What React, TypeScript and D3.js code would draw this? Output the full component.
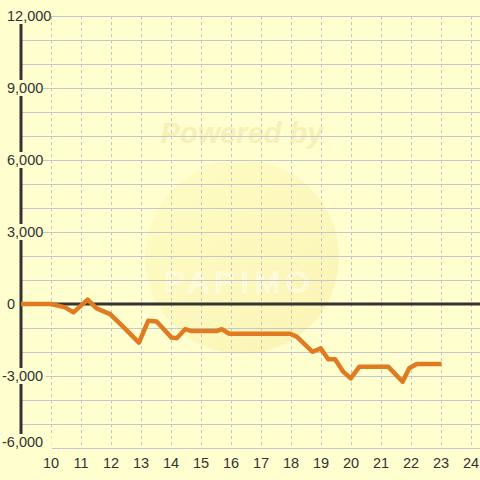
import React from "react";
import * as d3 from "d3";

const hours = [9, 10, 10.47, 10.75, 11.22, 11.52, 11.97, 12.35, 12.93, 13.24, 13.52, 14.02, 14.19, 14.47, 14.69, 15.52, 15.69, 15.94, 17.97, 18.19, 18.72, 18.99, 19.24, 19.47, 19.74, 19.99, 20.28, 21.24, 21.72, 21.94, 22.19, 23.02];
const values = [0, 0, -140, -350, 180, -180, -420, -880, -1610, -700, -730, -1400, -1430, -1050, -1130, -1130, -1050, -1240, -1240, -1360, -1990, -1850, -2300, -2300, -2820, -3100, -2610, -2610, -3240, -2680, -2500, -2500];
const xTicks = [10, 11, 12, 13, 14, 15, 16, 17, 18, 19, 20, 21, 22, 23, 24];
const yLabelTicks = [12000, 9000, 6000, 3000, 0, -3000, -6000];
const yGridTicks = [12000, 11000, 10000, 9000, 8000, 7000, 6000, 5000, 4000, 3000, 2000, 1000, 0, -1000, -2000, -3000, -4000, -5000, -6000];

const BG = "#fefecf";
const W = 480;
const H = 480;

export default function App() {
  const x = d3.scaleLinear().domain([9, 24.3]).range([21, 480]);
  const y = d3.scaleLinear().domain([-6000, 12000]).range([448, 16]);
  const line = d3
    .line<number>()
    .x((_, i) => x(hours[i]))
    .y((d) => y(d));
  const fmt = d3.format(",");
  const font = "'Liberation Sans', Arial, sans-serif";
  return (
    <svg
      width={W}
      height={H}
      style={{ position: "absolute", left: 0, top: 0, display: "block" }}
    >
      <defs>
        <linearGradient id="wm" x1="0" y1="0" x2="1" y2="1">
          <stop offset="0" stopColor="#fffbb8" stopOpacity="0.45" />
          <stop offset="1" stopColor="#f6e89a" stopOpacity="0.5" />
        </linearGradient>
      </defs>
      <rect x={0} y={0} width={W} height={H} fill={BG} />
      {/* watermark */}
      <circle cx={242} cy={257} r={97} fill="url(#wm)" />
      <text
        x={242}
        y={143}
        textAnchor="middle"
        fontFamily={font}
        fontWeight="bold"
        fontStyle="italic"
        fontSize={29}
        fill="#f7f0b8"
      >
        Powered by
      </text>
      <text
        x={240}
        y={292}
        textAnchor="middle"
        fontFamily={font}
        fontSize={30}
        fill="none"
        stroke="#fffde8"
        strokeWidth={1.2}
        letterSpacing={6}
      >
        PAPIMO
      </text>
      {/* horizontal grid */}
      {yGridTicks.map((t) => (
        <line
          key={"h" + t}
          x1={21}
          x2={W}
          y1={y(t) + 0.5}
          y2={y(t) + 0.5}
          stroke="#c6c6cf"
          strokeWidth={1.2}
        />
      ))}
      {/* vertical grid */}
      {xTicks.map((t) => (
        <line
          key={"v" + t}
          x1={Math.round(x(t)) + 0.5}
          x2={Math.round(x(t)) + 0.5}
          y1={16}
          y2={448}
          stroke="#c4c4cc"
          strokeWidth={1}
          strokeDasharray="3,3"
        />
      ))}
      {/* y axis */}
      <line x1={21} x2={21} y1={16} y2={448} stroke="#333" strokeWidth={3} />
      {/* zero line */}
      <line x1={21} x2={W} y1={y(0)} y2={y(0)} stroke="#333" strokeWidth={3} />
      {/* data line */}
      <path
        d={line(values) || ""}
        fill="none"
        stroke="#e07b22"
        strokeWidth={4.5}
        strokeLinejoin="round"
      />
      {/* y labels */}
      {yLabelTicks.map((t) => {
        const s = fmt(t).replace("−", "-");
        const neg = t < 0;
        const startX = neg ? 2 : 7;
        const w = s.length * 7.7 - (s.includes(",") ? 3.5 : 0);
        const cy = t === -6000 ? y(t) - 6 : y(t);
        const extra = t === -6000 ? 7 : 1;
        return (
          <g key={"yl" + t}>
            {t !== 0 && (
              <rect x={startX} y={cy - 8} width={w + extra} height={t === -6000 ? 20 : 16} fill={BG} />
            )}
            <text
              x={startX}
              y={cy + 5}
              fontFamily={font}
              fontSize={14.5}
              fill="#333"
            >
              {s}
            </text>
          </g>
        );
      })}
      {/* x labels */}
      {xTicks.map((t) => (
        <text
          key={"xl" + t}
          x={x(t)}
          y={468}
          textAnchor="middle"
          fontFamily={font}
          fontSize={14.5}
          fill="#333"
        >
          {t}
        </text>
      ))}
    </svg>
  );
}
